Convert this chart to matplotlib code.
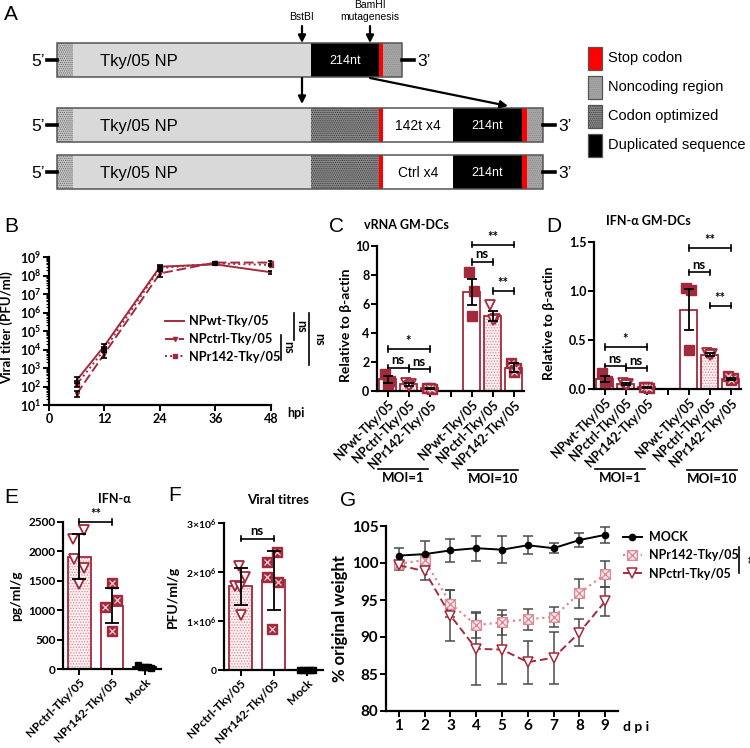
import matplotlib.pyplot as plt
from matplotlib.patches import Rectangle
from matplotlib.path import Path
from matplotlib.ticker import LogLocator, NullFormatter

plt.rcParams['font.family'] = ['Lato', 'DejaVu Sans']
plt.rcParams['font.weight'] = 'bold'
plt.rcParams['axes.labelweight'] = 'bold'
plt.rcParams['axes.titleweight'] = 'bold'
plt.rcParams['mathtext.default'] = 'regular'
plt.rcParams['hatch.linewidth'] = 0.6

DRED = '#A32A3C'
PINK = '#D98C96'
FILL = '#FBEFF1'
PLAIN = ['Liberation Sans', 'DejaVu Sans']

# ---------------- data ----------------
# B: viral growth (PFU/ml)
hpi = [6, 12, 24, 36, 48]
b_wt = [220, 1.6e4, 3.0e8, 4.0e8, 1.5e8]
b_wt_lo = [150, 1.2e4, 2.4e8, 3.5e8, 1.2e8]
b_wt_hi = [330, 2.0e4, 3.6e8, 4.6e8, 1.8e8]
b_ctrl = [40, 6e3, 1.3e8, 5e8, 5e8]
b_ctrl_lo = [28, 3.5e3, 8e7, 4.3e8, 4.3e8]
b_ctrl_hi = [55, 9e3, 1.8e8, 5.6e8, 5.8e8]
b_r142 = [130, 1.0e4, 2.5e8, 4.5e8, 3.7e8]
b_r142_lo = [90, 7e3, 1.9e8, 3.9e8, 3.1e8]
b_r142_hi = [200, 1.3e4, 3.1e8, 5.0e8, 4.4e8]

cd_labels = ['NPwt-Tky/05', 'NPctrl-Tky/05', 'NPr142-Tky/05', '',
             'NPwt-Tky/05', 'NPctrl-Tky/05', 'NPr142-Tky/05']

# C: vRNA GM-DCs (MOI=1 then MOI=10)
c_wt = [0.8, 6.8]
c_wt_err = [0.25, 0.9]
c_wt_pts = [[1.2, 0.7, 0.5], [8.2, 6.9, 5.2]]
c_ctrl = [0.45, 5.15]
c_ctrl_err = [0.1, 0.35]
c_ctrl_pts = [[0.55, 0.45, 0.35], [5.9, 5.0, 4.9]]
c_r142 = [0.18, 1.6]
c_r142_err = [0.03, 0.3]
c_r142_pts = [[0.2, 0.15, 0.18], [1.9, 1.6, 1.3]]

# D: IFN-alpha GM-DCs
d_wt = [0.1, 0.81]
d_wt_err = [0.03, 0.21]
d_wt_pts = [[0.16, 0.08, 0.07], [1.03, 1.01, 0.40]]
d_ctrl = [0.05, 0.35]
d_ctrl_err = [0.01, 0.015]
d_ctrl_pts = [[0.06, 0.05, 0.04], [0.37, 0.36, 0.35]]
d_r142 = [0.02, 0.1]
d_r142_err = [0.005, 0.012]
d_r142_pts = [[0.02, 0.015, 0.02], [0.13, 0.11, 0.09]]

# E: IFN-alpha (pg/ml/g)
e_labels = ['NPctrl-Tky/05', 'NPr142-Tky/05', 'Mock']
e_means = [1910, 1075, 40]
e_sd = [380, 300, 20]
e_ctrl_pts = [2370, 2210, 1870, 1720, 1450]
e_r142_pts = [1470, 1170, 1060, 640]
e_mock_pts = [70, 40, 30, 30, 20]

# F: viral titres (PFU/ml/g)
f_means = [1.71e6, 1.83e6, 0.01e6]
f_sd = [0.38e6, 0.6e6, 0.0]
f_ctrl_pts = [2.12e6, 1.9e6, 1.72e6, 1.70e6, 1.12e6]
f_r142_pts = [2.4e6, 2.2e6, 1.9e6, 1.8e6, 0.84e6]
f_mock_pts = [0.01e6, 0.01e6, 0.01e6, 0.01e6, 0.01e6]

# G: weight loss
dpi = [1, 2, 3, 4, 5, 6, 7, 8, 9]
g_mock = [101.0, 101.2, 101.7, 102.0, 101.8, 102.4, 102.0, 103.1, 103.8]
g_mock_err = [1.0, 1.8, 1.5, 1.7, 1.8, 1.2, 0.7, 1.0, 1.1]
g_r142 = [99.9, 100.4, 94.5, 91.6, 92.0, 92.4, 92.7, 95.9, 98.5]
g_r142_err = [0.5, 0.7, 1.8, 1.8, 1.7, 1.4, 1.3, 2.0, 1.8]
g_ctrl = [99.7, 98.9, 92.9, 88.4, 88.3, 86.6, 87.2, 90.6, 94.8]
g_ctrl_err = [0.7, 1.2, 3.4, 4.9, 4.7, 2.9, 3.5, 1.8, 2.0]

# ---------------- figure ----------------
W, H = 750, 748
fig = plt.figure(figsize=(7.5, 7.48), dpi=100)

ov = fig.add_axes([0, 0, 1, 1])
ov.set_xlim(0, W)
ov.set_ylim(H, 0)
ov.axis('off')


def px_axes(l, t, r, b):
    return fig.add_axes([l / W, 1 - b / H, (r - l) / W, (b - t) / H])


def style(ax, size=8.5):
    for s in ['top', 'right']:
        ax.spines[s].set_visible(False)
    for s in ['left', 'bottom']:
        ax.spines[s].set_linewidth(1.6)
    ax.tick_params(direction='out', length=4, width=1.4, labelsize=size, pad=1.5)


def bracket(ax, x1, x2, y, text, h, size=9.5):
    ax.plot([x1, x2], [y, y], color='black', lw=1.2, clip_on=False)
    for x in (x1, x2):
        ax.plot([x, x], [y - h, y + h], color='black', lw=1.2, clip_on=False)
    ax.text((x1 + x2) / 2, y + h * 0.6, text, ha='center', va='bottom',
            fontsize=size, clip_on=False)


# boxed cross marker
boxx = Path([(-1, -1), (1, -1), (1, 1), (-1, 1), (-1, -1),
             (-1, -1), (1, 1), (-1, 1), (1, -1)],
            [Path.MOVETO, Path.LINETO, Path.LINETO, Path.LINETO, Path.CLOSEPOLY,
             Path.MOVETO, Path.LINETO, Path.MOVETO, Path.LINETO])


def red_boxx(ax, xs, ys, ms=7):
    ax.plot(xs, ys, ls='none', marker='s', ms=ms, mfc=DRED, mec=DRED, zorder=4, clip_on=False)
    ax.plot(xs, ys, ls='none', marker='x', ms=ms * 0.6, mew=0.9, color='#F6D3D8', zorder=5,
            clip_on=False)


def stipple_bar(ax, x, h, w):
    ax.bar(x, h, w, color=FILL, edgecolor=PINK, hatch='......', lw=0, zorder=1)
    ax.bar(x, h, w, fill=False, edgecolor=DRED, lw=1.3, zorder=2)


def open_bar(ax, x, h, w, ec=DRED):
    ax.bar(x, h, w, color='white', edgecolor=ec, lw=1.3, zorder=1)


# ---------------- panel A (schematic) ----------------
styles = {
    'end5': dict(fc='#c4c4c4', hc='#6e6e6e'),
    'np': dict(fc='#d9d9d9', hc=None),
    'dup': dict(fc='black', hc=None),
    'stop': dict(fc='#ff0000', hc=None),
    'end3': dict(fc='#a8a8a8', hc='#8a8a8a'),
    'opt': dict(fc='#8a8a8a', hc='#3c3c3c'),
    'ins': dict(fc='white', hc=None),
}
row1 = [(57, 73, 'end5'), (73, 311, 'np'), (311, 379, 'dup'), (379, 383, 'stop'), (383, 402, 'end3')]
row2 = [(57, 73, 'end5'), (73, 311, 'np'), (311, 379, 'opt'), (379, 383, 'stop'), (383, 453, 'ins'),
        (453, 522, 'dup'), (522, 527, 'stop'), (527, 543, 'end3')]
rows = [(row1, 43, 77, None), (row2, 108, 142, '142t x4'), (row2, 155, 189, 'Ctrl x4')]

for segs, top, bot, ins_text in rows:
    for x0, x1, kind in segs:
        st = styles[kind]
        ov.add_patch(Rectangle((x0, top), x1 - x0, bot - top, fc=st['fc'], ec='none', lw=0))
        if st['hc']:
            ov.add_patch(Rectangle((x0, top), x1 - x0, bot - top, fill=False, ec=st['hc'],
                                   hatch='........', lw=0))
        if kind == 'dup':
            ov.text((x0 + x1) / 2, (top + bot) / 2 + 1, '214nt', color='white', ha='center',
                    va='center', fontsize=9, family=PLAIN, fontweight='normal')
        if kind == 'ins':
            ov.text((x0 + x1) / 2, (top + bot) / 2 + 1, ins_text, color='black', ha='center',
                    va='center', fontsize=10, family=PLAIN, fontweight='normal')
    right = segs[-1][1]
    ov.add_patch(Rectangle((57, top), right - 57, bot - top, fill=False, ec='#555555', lw=1.1))
    mid = (top + bot) / 2
    ov.plot([47, 57], [mid, mid], color='black', lw=2.6)
    ov.plot([right, right + 12], [mid, mid], color='black', lw=2.6)
    ov.text(45, mid + 1, '5’', ha='right', va='center', fontsize=12.5, family=PLAIN,
            fontweight='normal')
    ov.text(right + 15, mid + 1, '3’', ha='left', va='center', fontsize=12.5, family=PLAIN,
            fontweight='normal')
    ov.text(100, mid + 1, 'Tky/05 NP', ha='left', va='center', fontsize=12, family=PLAIN,
            fontweight='normal')

arrow = dict(arrowstyle='-|>', color='black', lw=1.6, mutation_scale=11, shrinkA=0, shrinkB=0)
ov.annotate('', xy=(302, 43), xytext=(302, 26), arrowprops=arrow)
ov.annotate('', xy=(370, 43), xytext=(370, 26), arrowprops=arrow)
ov.annotate('', xy=(302, 104), xytext=(302, 78), arrowprops=arrow)
ov.annotate('', xy=(508, 106), xytext=(370, 78), arrowprops=arrow)
ov.text(302, 17, 'BstBI', ha='center', va='center', fontsize=7.5, family=PLAIN, fontweight='normal')
ov.text(370, 5, 'BamHI', ha='center', va='center', fontsize=7.5, family=PLAIN, fontweight='normal')
ov.text(370, 17, 'mutagenesis', ha='center', va='center', fontsize=7.5, family=PLAIN,
        fontweight='normal')

leg_items = [('Stop codon', 'stop', 47), ('Noncoding region', 'end3', 76),
             ('Codon optimized', 'opt', 105), ('Duplicated sequence', 'dup', 134)]
for txt, kind, top in leg_items:
    st = styles[kind]
    ov.add_patch(Rectangle((588, top), 14, 23, fc=st['fc'], ec='none'))
    if st['hc']:
        ov.add_patch(Rectangle((588, top), 14, 23, fill=False, ec=st['hc'], hatch='........', lw=0))
    ov.add_patch(Rectangle((588, top), 14, 23, fill=False, ec='#555555', lw=0.9))
    ov.text(608, top + 11, txt, ha='left', va='center', fontsize=10.5, family=PLAIN,
            fontweight='normal')

# panel letters
for letter, x, y in [('A', 4, 14), ('B', 4, 226), ('C', 329, 226), ('D', 546, 226),
                     ('E', 4, 497), ('F', 168, 495), ('G', 340, 500)]:
    ov.text(x, y, letter, ha='left', va='center', fontsize=15, family=PLAIN, fontweight='normal')

# ---------------- panel B ----------------
axb = px_axes(49, 257, 271, 405)
style(axb, 9)
axb.set_yscale('log')
axb.set_xlim(0, 48)
axb.set_ylim(10, 1e9)
axb.set_xticks([0, 12, 24, 36, 48])
axb.yaxis.set_major_locator(LogLocator(base=10, numticks=12))
axb.yaxis.set_minor_locator(LogLocator(base=10, subs=range(2, 10), numticks=12))
axb.yaxis.set_minor_formatter(NullFormatter())
axb.tick_params(which='minor', length=2, width=0.8)
for y, lo, hi, ls, mk, lab in [(b_wt, b_wt_lo, b_wt_hi, '-', None, 'NPwt-Tky/05'),
                               (b_ctrl, b_ctrl_lo, b_ctrl_hi, (0, (5, 2)), 'v', 'NPctrl-Tky/05'),
                               (b_r142, b_r142_lo, b_r142_hi, ':', 's', 'NPr142-Tky/05')]:
    err = [[v - l for v, l in zip(y, lo)], [h - v for v, h in zip(y, hi)]]
    axb.errorbar(hpi, y, yerr=err, fmt='none', ecolor='black', elinewidth=1.2, capsize=2.5,
                 capthick=1.2, zorder=3)
    axb.plot(hpi, y, color=DRED, ls=ls, lw=1.4, marker=mk, ms=3, label=lab, zorder=2, clip_on=False)
axb.legend(loc='upper left', bbox_to_anchor=(0.5, 0.64), frameon=False, fontsize=9.2,
           handlelength=1.5, handletextpad=0.4, labelspacing=0.45, borderaxespad=0)
axb.set_ylabel('Viral titer (PFU/ml)', fontsize=9.5)
axb.yaxis.set_label_coords(-0.16, 0.52)
ov.text(296, 413, 'hpi', ha='center', va='center', fontsize=9)
for x, y0, y1, tx in [(281, 335, 360, 288), (294, 313, 340, 301), (309, 313, 365, 319)]:
    ov.plot([x, x], [y0, y1], color='black', lw=1.2)
    ov.text(tx, (y0 + y1) / 2, 'ns', rotation=270, ha='center', va='center', fontsize=9)

# ---------------- panels C & D ----------------
offs = [-0.13, 0.13, 0.0]


def group_panel(ax, wt, wt_err, wt_pts, ctrl, ctrl_err, ctrl_pts, r142, r142_err, r142_pts):
    w = 0.8
    for g, base in enumerate([0, 4]):
        open_bar(ax, base, wt[g], w)
        stipple_bar(ax, base + 1, ctrl[g], w)
        open_bar(ax, base + 2, r142[g], w)
        ax.plot([base + o for o in offs], wt_pts[g], ls='none', marker='s', ms=6.5, mfc=DRED,
                mec=DRED, zorder=4, clip_on=False)
        ax.plot([base + 1 + o for o in offs], ctrl_pts[g], ls='none', marker='v', ms=7,
                mfc='white', mec=DRED, mew=1.3, zorder=4, clip_on=False)
        red_boxx(ax, [base + 2 + o for o in offs], r142_pts[g], ms=6.5)
        ax.errorbar([base, base + 1, base + 2], [wt[g], ctrl[g], r142[g]],
                    yerr=[wt_err[g], ctrl_err[g], r142_err[g]], fmt='none', ecolor='black',
                    elinewidth=1.3, capsize=3.5, capthick=1.3, zorder=6)
    ax.set_xlim(-0.5, 6.5)
    ax.set_xticks(range(7))
    ax.set_xticklabels(cd_labels, rotation=45, ha='right', rotation_mode='anchor', fontsize=9)
    ax.set_ylabel('Relative to β-actin', fontsize=10)


axc = px_axes(377, 246, 524, 391)
style(axc, 9)
group_panel(axc, c_wt, c_wt_err, c_wt_pts, c_ctrl, c_ctrl_err, c_ctrl_pts,
            c_r142, c_r142_err, c_r142_pts)
axc.set_ylim(0, 10)
axc.set_yticks([0, 2, 4, 6, 8, 10])
axc.yaxis.set_label_coords(-0.17, 0.45)
for x1, x2, y, t in [(0, 2, 2.9, '*'), (0, 1, 1.6, 'ns'), (1, 2, 1.5, 'ns'),
                     (4, 6, 10.1, '**'), (4, 5, 8.9, 'ns'), (5, 6, 6.9, '**')]:
    bracket(axc, x1, x2, y, t, 0.18)
axc.set_title('vRNA GM-DCs', fontsize=9, pad=12, x=0.2)

axd = px_axes(594, 242, 741, 389)
style(axd, 9)
group_panel(axd, d_wt, d_wt_err, d_wt_pts, d_ctrl, d_ctrl_err, d_ctrl_pts,
            d_r142, d_r142_err, d_r142_pts)
axd.set_ylim(0, 1.5)
axd.set_yticks([0, 0.5, 1.0, 1.5])
axd.set_yticklabels(['0.0', '0.5', '1.0', '1.5'])
axd.yaxis.set_label_coords(-0.265, 0.45)
for x1, x2, y, t in [(0, 2, 0.43, '*'), (0, 1, 0.23, 'ns'), (1, 2, 0.21, 'ns'),
                     (4, 6, 1.44, '**'), (4, 5, 1.19, 'ns'), (5, 6, 0.85, '**')]:
    bracket(axd, x1, x2, y, t, 0.027)
axd.set_title('IFN-α GM-DCs', fontsize=9, pad=12, x=0.37)

for x0, x1, y, t in [(378, 428, 469, 'MOI=1'), (468, 518, 470, 'MOI=10'),
                     (595, 645, 469, 'MOI=1'), (687, 737, 470, 'MOI=10')]:
    ov.plot([x0, x1], [y, y], color='black', lw=1.2)
    ov.text((x0 + x1) / 2, y + 9, t, ha='center', va='center', fontsize=9.5)

# ---------------- panel E ----------------
axe = px_axes(63, 522, 161, 669)
style(axe, 8.5)
stipple_bar(axe, 0, e_means[0], 0.7)
open_bar(axe, 1, e_means[1], 0.7)
open_bar(axe, 2, e_means[2], 0.7, ec='black')
axe.plot([0 + o for o in [0.15, -0.18, -0.15, 0.15, 0.0]], e_ctrl_pts, ls='none', marker='v',
         ms=7.5, mfc='white', mec=DRED, mew=1.3, zorder=4)
red_boxx(axe, [1 + o for o in [0.0, 0.15, -0.2, 0.0]], e_r142_pts, ms=7)
axe.plot([2 + o for o in [-0.2, -0.1, 0.0, 0.1, 0.2]], e_mock_pts, ls='none', marker='s',
         ms=5, color='black', zorder=4, clip_on=False)
axe.errorbar([0, 1, 2], e_means, yerr=e_sd, fmt='none', ecolor='black', elinewidth=1.3,
             capsize=5, capthick=1.3, zorder=6)
axe.set_xlim(-0.5, 2.5)
axe.set_ylim(0, 2500)
axe.set_yticks(range(0, 2501, 500))
axe.set_xticks([0, 1, 2])
axe.set_xticklabels(e_labels, rotation=45, ha='right', rotation_mode='anchor', fontsize=8.6)
axe.set_ylabel('pg/ml/g', fontsize=10)
axe.yaxis.set_label_coords(-0.42, 0.5)
bracket(axe, 0, 1, 2500, '**', 45)
axe.set_title('IFN-α', fontsize=9, pad=14, x=0.52)

# ---------------- panel F ----------------
axf = px_axes(224, 523, 323, 670)
style(axf, 7.5)
stipple_bar(axf, 0, f_means[0], 0.7)
open_bar(axf, 1, f_means[1], 0.7)
axf.plot([0 + o for o in [-0.05, 0.15, -0.18, -0.03, 0.0]], f_ctrl_pts, ls='none', marker='v',
         ms=7.5, mfc='white', mec=DRED, mew=1.3, zorder=4)
red_boxx(axf, [1 + o for o in [0.12, -0.2, -0.2, 0.13, -0.05]], f_r142_pts, ms=7)
axf.plot([2 + o for o in [-0.2, -0.1, 0.0, 0.1, 0.2]], f_mock_pts, ls='none', marker='s',
         ms=5, color='black', zorder=4, clip_on=False)
axf.errorbar([0, 1], f_means[:2], yerr=f_sd[:2], fmt='none', ecolor='black', elinewidth=1.3,
             capsize=5, capthick=1.3, zorder=6)
axf.set_xlim(-0.5, 2.5)
axf.set_ylim(0, 3e6)
axf.set_yticks([0, 1e6, 2e6, 3e6])
axf.set_yticklabels(['0', '1×10$^{6}$', '2×10$^{6}$', '3×10$^{6}$'])
axf.set_xticks([0, 1, 2])
axf.set_xticklabels(e_labels, rotation=45, ha='right', rotation_mode='anchor', fontsize=8.6)
axf.set_ylabel('PFU/ml/g', fontsize=10)
axf.yaxis.set_label_coords(-0.46, 0.5)
bracket(axf, 0, 1, 2.68e6, 'ns', 5e4)
axf.set_title('Viral titres', fontsize=9.5, pad=14, x=0.55)

# ---------------- panel G ----------------
axg = px_axes(386, 526, 618, 711)
style(axg, 11)
for vals, errs in [(g_mock, g_mock_err), (g_r142, g_r142_err), (g_ctrl, g_ctrl_err)]:
    axg.errorbar(dpi, vals, yerr=errs, fmt='none', ecolor='#4a4a4a', elinewidth=1.1,
                 capsize=3.5, capthick=1.1, zorder=2)
axg.plot(dpi, g_mock, color='black', lw=1.4, marker='o', ms=4.5, label='MOCK', zorder=4)
axg.plot(dpi, g_r142, color=PINK, ls=':', lw=1.6, marker=boxx, ms=7, mfc='#FBEEF0', mec=PINK,
         mew=1.0, label='NPr142-Tky/05', zorder=3)
axg.plot(dpi, g_ctrl, color=DRED, ls=(0, (4, 2)), lw=1.4, marker='v', ms=7, mfc='white',
         mec=DRED, mew=1.1, label='NPctrl-Tky/05', zorder=3)
axg.set_xlim(0.5, 9.5)
axg.set_ylim(80, 105)
axg.set_xticks(dpi)
axg.set_yticks([80, 85, 90, 95, 100, 105])
axg.set_ylabel('% original weight', fontsize=12)
axg.yaxis.set_label_coords(-0.165, 0.5)
axg.legend(loc='upper left', bbox_to_anchor=(1.0, 1.0), frameon=False, fontsize=9,
           handlelength=1.5, handletextpad=0.6, labelspacing=0.5, borderaxespad=0)
ov.text(636, 727, 'd p i', ha='center', va='center', fontsize=10)
ov.plot([739, 739], [547, 573], color='black', lw=1.2)
ov.text(745, 560, '**', rotation=270, ha='center', va='center', fontsize=8)

fig.savefig('out.png', dpi=100)
